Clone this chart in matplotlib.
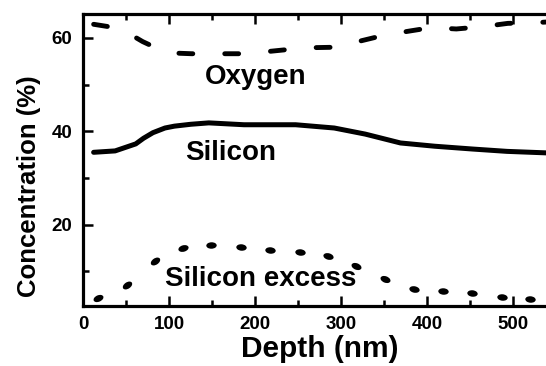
import numpy as np
import matplotlib
matplotlib.use("Agg")
import matplotlib.pyplot as plt
from matplotlib.markers import MarkerStyle
from matplotlib.transforms import Affine2D

# depth profiles (nm, %)
oxygen_depth = [12, 43, 69, 97, 126, 152, 182, 211, 238, 267, 296, 324, 351, 381, 405, 434, 465, 494, 521, 550]
oxygen_conc  = [62.9, 62.0, 59.2, 56.8, 56.6, 56.6, 56.6, 57.0, 57.5, 57.9, 58.0, 59.4, 60.6, 61.5, 62.2, 61.9, 62.4, 63.1, 63.2, 63.5]

silicon_depth = [12, 37, 61, 70, 81, 95, 106, 125, 146, 187, 247, 292, 328, 369, 409, 453, 493, 550]
silicon_conc  = [35.5, 35.8, 37.3, 38.5, 39.7, 40.7, 41.1, 41.5, 41.8, 41.4, 41.4, 40.7, 39.4, 37.5, 36.8, 36.2, 35.7, 35.3]

excess_depth = [17, 51, 83, 116, 148, 183, 217, 252, 285, 317, 351, 385, 419, 452, 487, 520]
excess_conc  = [4.4, 7.1, 12.3, 15.0, 15.7, 15.3, 14.6, 14.2, 13.3, 11.1, 8.4, 6.2, 5.9, 5.3, 4.5, 4.0]

x_ticks = [0, 100, 200, 300, 400, 500]
y_ticks = [20, 40, 60]

plt.rcParams['font.family'] = ['Liberation Sans', 'DejaVu Sans']
plt.rcParams['font.weight'] = 'bold'
plt.rcParams['lines.scale_dashes'] = False

fig = plt.figure(figsize=(5.46, 3.66), dpi=100)
ax = fig.add_axes([0.1526, 0.1639, 0.8657, 0.7978])

ax.set_xlim(0, 550)
ax.set_ylim(2.6, 65.1)

ax.plot(oxygen_depth, oxygen_conc, color='black', lw=3.5,
        dashes=(10, 23), dash_capstyle='round', solid_capstyle='round')
ax.plot(silicon_depth, silicon_conc, color='black', lw=3.6, solid_capstyle='round')

# elongated dots, each tilted along the local slope of the curve
px_per_x = 0.86
px_per_y = 4.68
slope = np.gradient(np.array(excess_conc), np.array(excess_depth))
for d, c, s in zip(excess_depth, excess_conc, slope):
    ang = np.degrees(np.arctan(s * px_per_y / px_per_x))
    m = MarkerStyle('o', transform=Affine2D().scale(1.0, 0.62).rotate_deg(ang))
    ax.plot([d], [c], marker=m, ms=7.5, color='black', mew=0, ls='none')

ax.text(201, 50.2, 'Oxygen', fontsize=20, fontweight='bold', ha='center', va='baseline')
ax.text(172, 33.8, 'Silicon', fontsize=20, fontweight='bold', ha='center', va='baseline')
ax.text(206, 6.9, 'Silicon excess', fontsize=20, fontweight='bold', ha='center', va='baseline')

ax.set_xticks(x_ticks)
ax.set_xticks(np.arange(50, 551, 100), minor=True)
ax.set_yticks(y_ticks)
ax.set_yticks([10, 30, 50], minor=True)

for side in ax.spines.values():
    side.set_linewidth(2.3)
ax.tick_params(which='both', direction='in', top=True, right=True, width=1.8)
ax.tick_params(which='major', length=7.2)
ax.tick_params(which='minor', length=4.3)
ax.tick_params(axis='x', which='major', labelsize=13.5, pad=7.5)
ax.tick_params(axis='y', which='major', labelsize=13.5, pad=8)

ax.set_xlabel('Depth (nm)', fontsize=21.5, fontweight='bold', labelpad=1)
ax.set_ylabel('Concentration (%)', fontsize=18.5, fontweight='bold')
ax.yaxis.set_label_coords(-0.09, 0.41)

fig.savefig('out.png', dpi=100)
